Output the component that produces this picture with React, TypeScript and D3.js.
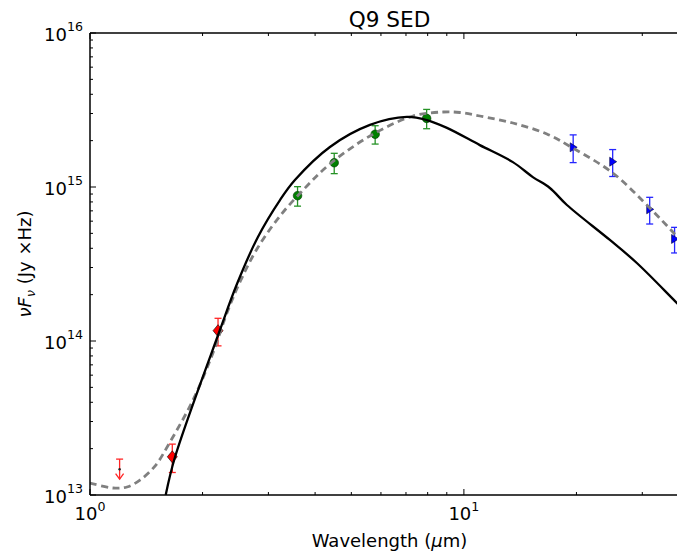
import React from 'react';
import * as d3 from 'd3';

// ---------- data ----------
const modelWave = [1.594, 1.688, 2.226, 2.472, 2.813, 3.222, 3.532, 4.383, 5.607, 7.04, 7.96, 9.01, 11.03, 13.52, 15.29, 16.98, 18.86, 24.57, 29.01, 37.1, 40];
const modelFlux = [1e13, 1.765e13, 1.179e14, 2.345e14, 4.74e14, 8.23e14, 1.11e15, 1.82e15, 2.53e15, 2.85e15, 2.72e15, 2.42e15, 1.87e15, 1.45e15, 1.16e15, 9.85e14, 7.64e14, 4.53e14, 3.21e14, 1.77e14, 1.48e14];

const fitWave = [1.0, 1.152, 1.256, 1.36, 1.492, 1.637, 1.886, 2.132, 2.324, 2.518, 2.796, 3.222, 3.804, 4.383, 5.607, 7.31, 8.79, 9.76, 11.03, 13.52, 16.67, 19.56, 25.02, 31.43, 36.22, 40];
const fitFlux = [1.197e13, 1.11e13, 1.127e13, 1.25e13, 1.54e13, 2.21e13, 4.14e13, 8.36e13, 1.52e14, 2.416e14, 3.958e14, 6.48e14, 1.015e15, 1.411e15, 2.144e15, 2.891e15, 3.069e15, 3.047e15, 2.891e15, 2.604e15, 2.209e15, 1.79e15, 1.233e15, 7.3e14, 5.1e14, 3.958e14];

const limitWave = [1.2];
const limitFlux = [1.47e13];
const limitErr = [0.24e13];

const nirWave = [1.66, 2.2];
const nirFlux = [1.77e13, 1.167e14];
const nirErr = [0.37e13, 0.237e14];

const iracWave = [3.59, 4.5, 5.79, 7.95];
const iracFlux = [8.78e14, 1.438e15, 2.2e15, 2.79e15];
const iracErr = [1.27e14, 2.17e14, 3.0e14, 4.0e14];

const firWave = [19.6, 25.0, 31.4, 36.6];
const firFlux = [1.81e15, 1.46e15, 7.16e14, 4.6e14];
const firErr = [3.7e14, 2.9e14, 1.41e14, 0.87e14];

const xMajor = [1, 10];
const xMajorExp = ['0', '1'];
const xMinor = [2, 3, 4, 5, 6, 7, 8, 9, 20, 30, 40];
const yMajor = [1e13, 1e14, 1e15, 1e16];
const yMajorExp = ['13', '14', '15', '16'];
const yMinor = [1e13, 1e14, 1e15].flatMap((d) => [2, 3, 4, 5, 6, 7, 8, 9].map((m) => m * d));

const title = 'Q9 SED';
const xLabel = 'Wavelength (';

// ---------- layout ----------
const W = 677;
const H = 552;
const L = 90, R = 689, T = 33, B = 495;
const FONT = 'DejaVu Sans';

const x = d3.scaleLog().domain([1, 40]).range([L, R]);
const y = d3.scaleLog().domain([1e13, 1e16]).range([B, T]);

const line = d3
  .line<[number, number]>()
  .x((d) => x(d[0]))
  .y((d) => y(d[1]))
  .curve(d3.curveCatmullRom.alpha(0.5));

const zip = (a: number[], b: number[]) => a.map((v, i) => [v, b[i]] as [number, number]);

function ErrBar({ cx, v, e, color }: { cx: number; v: number; e: number; color: string }) {
  const y1 = y(v + e);
  const y2 = y(Math.max(v - e, 1e10));
  return (
    <g stroke={color} strokeWidth={1.3} opacity={0.85}>
      <line x1={cx} x2={cx} y1={y1} y2={y2} />
      <line x1={cx - 3.5} x2={cx + 3.5} y1={y1} y2={y1} />
      <line x1={cx - 3.5} x2={cx + 3.5} y1={y2} y2={y2} />
    </g>
  );
}

export default function App() {
  return (
    <svg
      width={W}
      height={H}
      style={{ position: 'absolute', left: 0, top: 0, background: '#fff' }}
      fontFamily={FONT}
    >
      <defs>
        <clipPath id="plot">
          <rect x={L} y={T} width={R - L} height={B - T} />
        </clipPath>
      </defs>
      <rect x={0} y={0} width={W} height={H} fill="#fff" />

      {/* points */}
      <g clipPath="url(#plot)">
        {limitWave.map((w, i) => {
          const cx = x(w);
          const cy = y(limitFlux[i]);
          const top = y(limitFlux[i] + limitErr[i]);
          return (
            <g key={'l' + i}>
              <g stroke="#ff0000" strokeWidth={1.3} fill="none" opacity={0.85}>
                <line x1={cx} x2={cx} y1={top} y2={cy + 10} />
                <line x1={cx - 3.5} x2={cx + 3.5} y1={top} y2={top} />
                <polyline points={`${cx - 4},${cy + 4.5} ${cx},${cy + 10} ${cx + 4},${cy + 4.5}`} />
              </g>
              <circle cx={cx} cy={cy} r={1.2} fill="#222" />
            </g>
          );
        })}
        {nirWave.map((w, i) => {
          const cx = x(w);
          const cy = y(nirFlux[i]);
          return (
            <g key={'n' + i}>
              <ErrBar cx={cx} v={nirFlux[i]} e={nirErr[i]} color="#ff0000" />
              <path
                d={`M${cx},${cy - 6}L${cx + 5},${cy}L${cx},${cy + 6}L${cx - 5},${cy}Z`}
                fill="#ff0000"
                stroke="#000"
                strokeWidth={0.6}
              />
            </g>
          );
        })}
        {iracWave.map((w, i) => {
          const cx = x(w);
          const cy = y(iracFlux[i]);
          return (
            <g key={'g' + i}>
              <ErrBar cx={cx} v={iracFlux[i]} e={iracErr[i]} color="#008000" />
              <circle cx={cx} cy={cy} r={4.3} fill="#008000" stroke="#003300" strokeWidth={0.6} />
            </g>
          );
        })}
        {firWave.map((w, i) => {
          const cx = x(w);
          const cy = y(firFlux[i]);
          return (
            <g key={'b' + i}>
              <ErrBar cx={cx} v={firFlux[i]} e={firErr[i]} color="#0000ff" />
              <path
                d={`M${cx - 3},${cy - 4.5}L${cx + 4},${cy}L${cx - 3},${cy + 4.5}Z`}
                fill="#0000ff"
                stroke="#000033"
                strokeWidth={0.6}
              />
            </g>
          );
        })}
      </g>

      {/* model curves */}
      <g clipPath="url(#plot)" fill="none">
        <path d={line(zip(fitWave, fitFlux)) || ''} stroke="#808080" strokeWidth={2.8} strokeDasharray="7,4.5" />
        <path d={line(zip(modelWave, modelFlux)) || ''} stroke="#000" strokeWidth={2.3} />
      </g>

      {/* spines */}
      <g stroke="#000" strokeWidth={1.5} fill="none">
        <line x1={L} x2={L} y1={T} y2={B} />
        <line x1={R} x2={R} y1={T} y2={B} />
        <line x1={L} x2={R} y1={T} y2={T} />
        <line x1={L} x2={R} y1={B} y2={B} />
      </g>

      {/* ticks */}
      <g stroke="#000" strokeWidth={1}>
        {xMajor.map((v) => (
          <g key={'xM' + v}>
            <line x1={x(v)} x2={x(v)} y1={B} y2={B - 6} />
            <line x1={x(v)} x2={x(v)} y1={T} y2={T + 6} />
          </g>
        ))}
        {xMinor.map((v) => (
          <g key={'xm' + v}>
            <line x1={x(v)} x2={x(v)} y1={B} y2={B - 3} />
            <line x1={x(v)} x2={x(v)} y1={T} y2={T + 3} />
          </g>
        ))}
        {yMajor.map((v) => (
          <g key={'yM' + v}>
            <line x1={L} x2={L + 6} y1={y(v)} y2={y(v)} />
            <line x1={R} x2={R - 6} y1={y(v)} y2={y(v)} />
          </g>
        ))}
        {yMinor.map((v) => (
          <g key={'ym' + v}>
            <line x1={L} x2={L + 3} y1={y(v)} y2={y(v)} />
            <line x1={R} x2={R - 3} y1={y(v)} y2={y(v)} />
          </g>
        ))}
      </g>

      {/* tick labels */}
      <g fill="#000">
        {xMajor.map((v, i) => (
          <text key={'xl' + v} x={x(v)} y={B + 25} textAnchor="middle" fontSize={18}>
            10
            <tspan fontSize={12.6} dy={-9.5}>{xMajorExp[i]}</tspan>
          </text>
        ))}
        {yMajor.map((v, i) => (
          <text key={'yl' + v} x={L - 7} y={y(v) + 8} textAnchor="end" fontSize={18}>
            10
            <tspan fontSize={12.6} dy={-10}>{yMajorExp[i]}</tspan>
          </text>
        ))}
      </g>

      {/* labels */}
      <text x={(L + R) / 2} y={27} textAnchor="middle" fontSize={21.6}>
        {title}
      </text>
      <text x={(L + R) / 2} y={547} textAnchor="middle" fontSize={18}>
        {xLabel}
        <tspan fontStyle="italic">μ</tspan>m)
      </text>
      <text transform={`translate(31,${(T + B) / 2}) rotate(-90)`} textAnchor="middle" fontSize={18}>
        <tspan fontStyle="italic">ν</tspan>
        <tspan fontStyle="italic">F</tspan>
        <tspan fontStyle="italic" fontSize={12.6} dy={4}>ν</tspan>
        <tspan dy={-4}> (Jy ×Hz)</tspan>
      </text>
    </svg>
  );
}
